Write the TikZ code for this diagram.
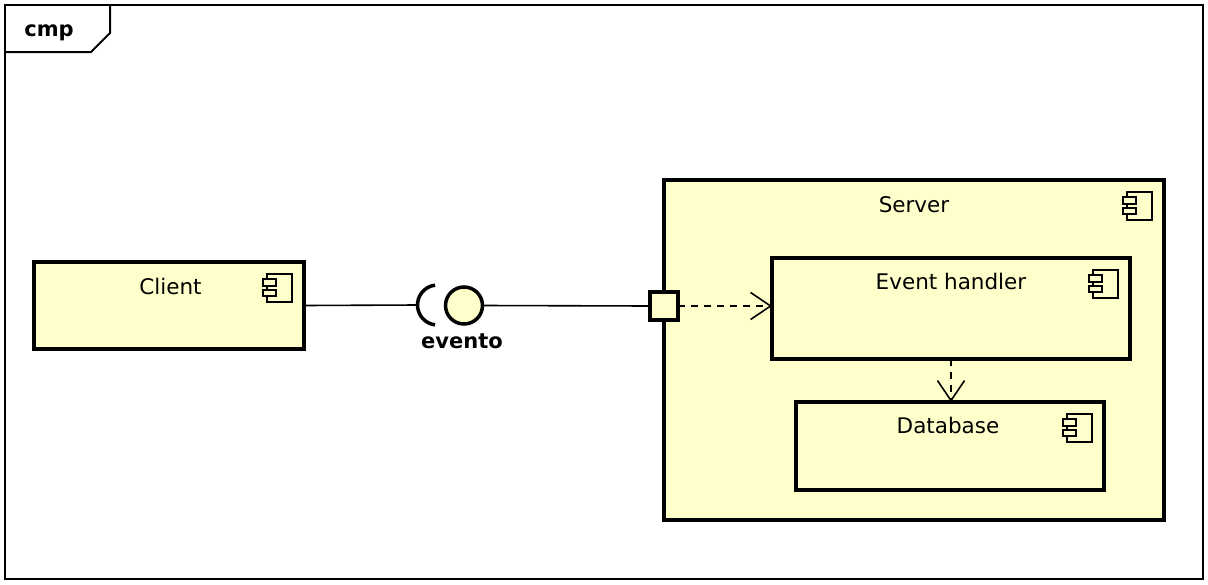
\documentclass[tikz,border=0pt]{standalone}
\usepackage{fontspec}
\setmainfont{DejaVu Sans}
\usetikzlibrary{arrows.meta}
\definecolor{cfill}{RGB}{255,255,204}
\definecolor{ink}{RGB}{0,0,0}
\begin{document}
\begin{tikzpicture}[x=1pt,y=-1pt,
  comp/.style={draw=ink, line width=3.5pt, fill=cfill, rectangle, inner sep=0pt, outer sep=0pt, anchor=north west},
  ctitle/.style={anchor=base, inner sep=0pt, text=ink, font=\fontsize{21.5}{25}\selectfont},
  btitle/.style={anchor=base, inner sep=0pt, text=ink, font=\fontsize{21}{25}\selectfont\bfseries},
  iconline/.style={draw=ink, line width=2pt, fill=cfill},
  wire/.style={draw=ink, line width=1.6pt},
  dep/.style={draw=ink, line width=1.6pt, dash pattern=on 7pt off 6pt, -{Straight Barb[length=20pt,width=27pt,line width=1.6pt]}},
  compicon/.pic={
    \draw[iconline] (-37,12) rectangle (-12,40);
    \draw[iconline] (-41,17) rectangle (-28,23.5);
    \draw[iconline] (-41,27.5) rectangle (-28,34);
  }
]
\useasboundingbox (0,0) rectangle (1208,584);
\fill[white] (0,0) rectangle (1208,584);
% frame
\draw[ink, line width=2pt] (5,5) rectangle (1203,579);
\draw[ink, line width=2pt] (5,52) -- (91,52) -- (110,33) -- (110,5);
\node[btitle] (cmp) at (49,36) {cmp};
% client
\node[comp, minimum width=270pt, minimum height=87pt] (client) at (34,262) {};
\node[ctitle] (clientT) at ([xshift=1.5pt,yshift=-32pt]client.north) {Client};
\pic at (client.north east) {compicon};
% server
\node[comp, minimum width=500pt, minimum height=340pt] (server) at (664,180) {};
\node[ctitle] (serverT) at ([yshift=-32pt]server.north) {Server};
\pic at (server.north east) {compicon};
% event handler
\node[comp, minimum width=358pt, minimum height=101pt] (evh) at (772,258) {};
\node[ctitle] (evhT) at ([yshift=-31pt]evh.north) {Event handler};
\pic at (evh.north east) {compicon};
% database
\node[comp, minimum width=308pt, minimum height=88pt] (db) at (796,402) {};
\node[ctitle] (dbT) at ([xshift=-2pt,yshift=-31pt]db.north) {Database};
\pic at (db.north east) {compicon};
% port
\node[draw=ink, line width=3.5pt, fill=cfill, rectangle, minimum size=28pt, inner sep=0pt, outer sep=0pt] (port) at (664,306) {};
% interface ball and socket
\node[draw=ink, circle, line width=3.5pt, fill=cfill, minimum size=37pt, inner sep=0pt, outer sep=0pt] (ball) at (464,305.5) {};
\coordinate (sockc) at (437.5,305);
\coordinate (sock) at (417.5,305);
\draw[ink, line width=3.5pt] (sockc) ++(97:20pt) arc[start angle=97, end angle=263, radius=20pt];
\node[btitle] (ev) at (462,348) {evento};
% connectors
\draw[wire] (client.east) -- (sock);
\draw[wire] (ball.east) -- (port.west);
\draw[dep] (port.east) -- (port.east -| evh.west);
\draw[dep] (evh.south) -- (evh.south |- db.north);
\end{tikzpicture}
\end{document}
